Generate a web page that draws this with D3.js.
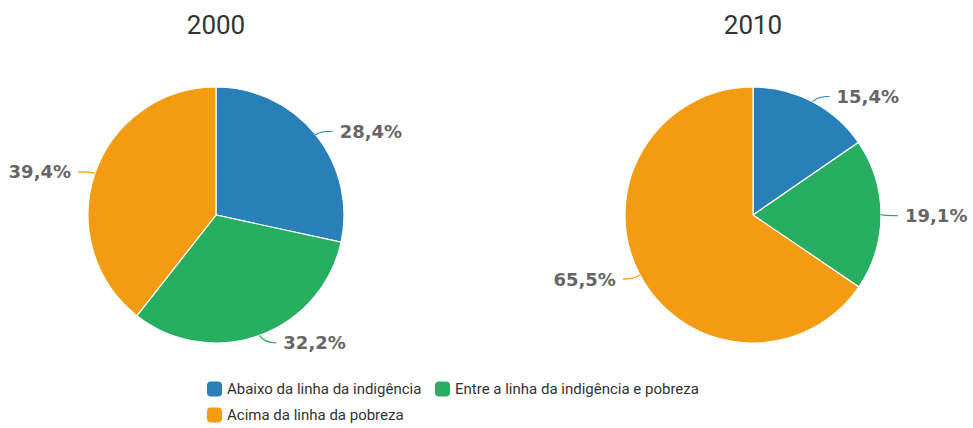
<!DOCTYPE html>
<html>
<head>
<meta charset="utf-8">
<script src="https://cdn.jsdelivr.net/npm/d3@7/dist/d3.min.js"></script>
<style>
  body { margin: 0; background: #fff; }
  #chart { width: 973px; height: 428px; }
</style>
</head>
<body>
<div id="chart"></div>
<script>
// categories and values
const categories = ["Abaixo da linha da indigência", "Entre a linha da indigência e pobreza", "Acima da linha da pobreza"];
const colors = ["#2980b9", "#27ae60", "#f39c12"];
const years = ["2000", "2010"];
const values2000 = [28.4, 32.2, 39.4];
const values2010 = [15.4, 19.1, 65.5];

const width = 973, height = 428;
const radius = 128;
const centers = [216, 753];
const cy = 215;

const svg = d3.select("#chart").append("svg")
    .attr("width", width)
    .attr("height", height);

const pie = d3.pie().sort(null).value(d => d);
const arc = d3.arc().innerRadius(0).outerRadius(radius);
const fmt = v => d3.format(".1f")(v).replace(".", ",") + "%";

[values2000, values2010].forEach((vals, i) => {
  const g = svg.append("g")
      .attr("transform", "translate(" + centers[i] + "," + cy + ")");

  g.append("text")
      .attr("x", 0)
      .attr("y", -cy + 34)
      .attr("text-anchor", "middle")
      .style("font-family", "Roboto, sans-serif")
      .style("font-size", "26px")
      .style("fill", "#333")
      .text(years[i]);

  const arcs = pie(vals);

  g.selectAll("path.slice").data(arcs).enter().append("path")
      .attr("class", "slice")
      .attr("d", arc)
      .attr("fill", (d, j) => colors[j])
      .attr("stroke", "#fff")
      .attr("stroke-width", 1.2);

  // labels + connectors
  arcs.forEach((d, j) => {
    const a = (d.startAngle + d.endAngle) / 2;
    const ex = radius * Math.sin(a), ey = -radius * Math.cos(a);
    const side = ex >= 0 ? 1 : -1;
    const ly = -(radius + 7) * Math.cos(a) + 1;
    const lx = ex + side * 24;

    g.append("path")
        .attr("d", "M" + ex + "," + ey +
                   " Q" + (ex + side * 5) + "," + ly + " " + (ex + side * 17) + "," + ly)
        .attr("fill", "none")
        .attr("stroke", colors[j])
        .attr("stroke-width", 1.2);

    g.append("text")
        .attr("x", lx)
        .attr("y", ly)
        .attr("dy", "0.36em")
        .attr("text-anchor", side > 0 ? "start" : "end")
        .style("font-family", "'DejaVu Sans', sans-serif")
        .style("font-weight", "bold")
        .style("font-size", "18px")
        .style("fill", "#666")
        .text(fmt(d.data));
  });
});

// legend
const legendPos = [[207, 389], [435, 389], [207, 415]];
const legend = svg.selectAll("g.legend").data(categories).enter().append("g")
    .attr("class", "legend")
    .attr("transform", (d, i) => "translate(" + legendPos[i][0] + "," + legendPos[i][1] + ")");

legend.append("rect")
    .attr("x", 0).attr("y", -7.5)
    .attr("width", 15).attr("height", 15)
    .attr("rx", 4).attr("ry", 4)
    .attr("fill", (d, i) => colors[i]);

legend.append("text")
    .attr("x", 20)
    .attr("y", 0)
    .attr("dy", "0.35em")
    .style("font-family", "Roboto, sans-serif")
    .style("font-size", "15px")
    .style("fill", "#333")
    .text(d => d);
</script>
</body>
</html>
